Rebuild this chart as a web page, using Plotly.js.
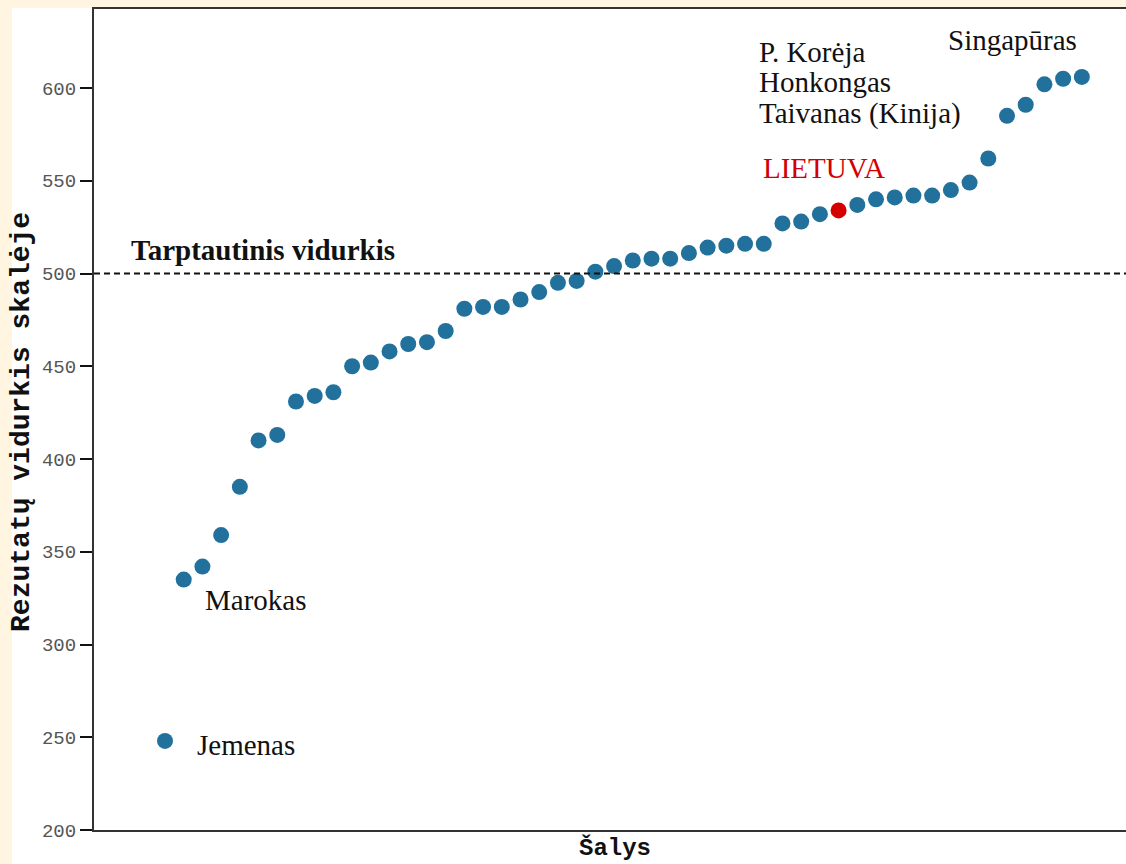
<!DOCTYPE html>
<html>
<head>
<meta charset="utf-8">
<script src="https://cdn.plot.ly/plotly-3.0.1.min.js"></script>
<style>
  html, body { margin: 0; padding: 0; background: #fff5e1; width: 1126px; height: 864px; overflow: hidden; }
  #chart { position: absolute; left: 0; top: 0; width: 1126px; height: 864px; }
</style>
</head>
<body>
<div id="chart"></div>
<script>
// Country ranks (left to right) and mean scale scores
const scores = [248, 335, 342, 359, 385, 410, 413, 431, 434, 436,
                450, 452, 458, 462, 463, 469, 481, 482, 482, 486,
                490, 495, 496, 501, 504, 507, 508, 508, 511, 514,
                515, 516, 516, 527, 528, 532, 534, 537, 540, 541,
                542, 542, 545, 549, 562, 585, 591, 602, 605, 606];
const highlightRank = 37;            // LIETUVA
const internationalAverage = 500;
const yTicks = [200, 250, 300, 350, 400, 450, 500, 550, 600];

const ranks = scores.map((_, i) => i + 1);
const colors = ranks.map(r => r === highlightRank ? '#d40000' : '#21719c');

const serif = 'Liberation Serif, Times New Roman, serif';
const mono = 'Liberation Mono, Courier New, monospace';

const trace = {
  x: ranks, y: scores, type: 'scatter', mode: 'markers',
  marker: { size: 16, color: colors, line: { width: 0 } },
  hoverinfo: 'y', cliponaxis: false
};

const ann = (text, x, y, xanchor, opts = {}) => Object.assign({
  text, x, y, xref: 'x', yref: 'y', xanchor, yanchor: 'middle', showarrow: false,
  font: { family: serif, size: 29, color: '#111' }
}, opts);

const layout = {
  width: 1126, height: 864,
  margin: { l: 94, r: 0, t: 9, b: 34 },
  paper_bgcolor: '#fff5e1', plot_bgcolor: '#ffffff',
  showlegend: false,
  xaxis: {
    range: [-2.795, 52.36], showgrid: false, zeroline: false,
    showticklabels: false, ticks: '',
    showline: true, linecolor: '#333', linewidth: 2, mirror: true
  },
  yaxis: {
    range: [200, 642.6], showgrid: false, zeroline: false,
    tickvals: yTicks, ticktext: yTicks.map(String),
    ticks: 'outside', ticklen: 12, tickwidth: 2, tickcolor: '#111',
    tickfont: { family: mono, size: 19, color: '#555' },
    showline: true, linecolor: '#333', linewidth: 2
  },
  shapes: [
    {
      type: 'rect', xref: 'paper', yref: 'paper', layer: 'below',
      x0: -0.07946, x1: 1, y0: -0.04141, y1: 1.00122,
      fillcolor: '#ffffff', line: { width: 0 }
    },
    {
      type: 'line', xref: 'paper', yref: 'y', x0: 0, x1: 1,
      y0: internationalAverage, y1: internationalAverage,
      line: { color: '#111', width: 2, dash: '6px,4px' }
    }
  ],
  annotations: [
    ann('<b>Tarptautinis vidurkis</b>', 6.24, 512.7, 'center', { font: { family: serif, size: 29, color: '#111' } }),
    ann('Marokas', 5.81, 324, 'center'),
    ann('Jemenas', 2.6, 245.8, 'left'),
    ann('P. Korėja', 32.64, 619.4, 'left'),
    ann('Honkongas', 32.64, 603.2, 'left'),
    ann('Taivanas (Kinija)', 32.64, 586.5, 'left'),
    ann('LIETUVA', 36.22, 556.9, 'center', { font: { family: serif, size: 29, color: '#d40000' } }),
    ann('Singapūras', 46.32, 625.9, 'center'),
    {
      text: '<b>Rezutatų vidurkis skalėje</b>', xref: 'paper', yref: 'paper',
      x: -0.0698, y: 0.497, xanchor: 'center', yanchor: 'middle', textangle: -90,
      showarrow: false, font: { family: mono, size: 28, color: '#111' }
    },
    {
      text: '<b>Šalys</b>', xref: 'paper', yref: 'paper',
      x: 0.5048, y: -0.0225, xanchor: 'center', yanchor: 'middle',
      showarrow: false, font: { family: mono, size: 24, color: '#111' }
    }
  ]
};

Plotly.newPlot('chart', [trace], layout, { displayModeBar: false, staticPlot: true });
</script>
</body>
</html>
